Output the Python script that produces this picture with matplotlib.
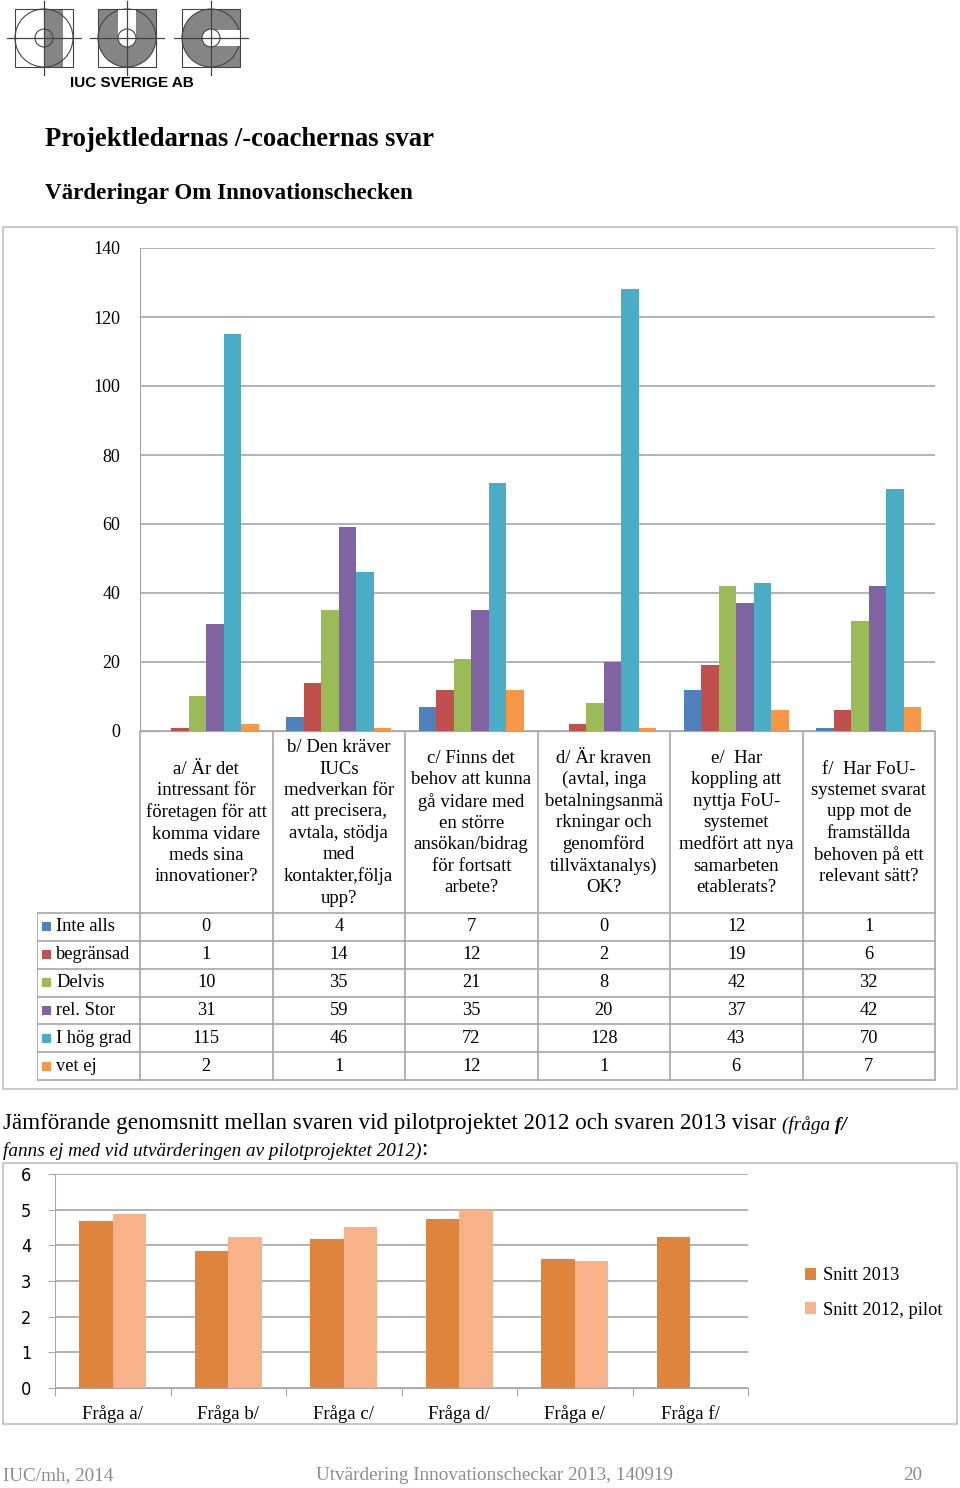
import matplotlib
matplotlib.use("Agg")
import matplotlib.pyplot as plt
from matplotlib.patches import Rectangle, Circle
import numpy as np

# ── data ────────────────────────────────────────────────────────────────
FRAGOR = [
    "a/ Är det\nintressant för\nföretagen för att\nkomma vidare\nmeds sina\ninnovationer?",
    "b/ Den kräver\nIUCs\nmedverkan för\natt precisera,\navtala, stödja\nmed\nkontakter,följa\nupp?",
    "c/ Finns det\nbehov att kunna\ngå vidare med\nen större\nansökan/bidrag\nför fortsatt\narbete?",
    "d/ Är kraven\n(avtal, inga\nbetalningsanmä\nrkningar och\ngenomförd\ntillväxtanalys)\nOK?",
    "e/  Har\nkoppling att\nnyttja FoU-\nsystemet\nmedfört att nya\nsamarbeten\netablerats?",
    "f/  Har FoU-\nsystemet svarat\nupp mot de\nframställda\nbehoven på ett\nrelevant sätt?",
]
SVAR = ["Inte alls", "begränsad", "Delvis", "rel. Stor", "I hög grad", "vet ej"]
INTE_ALLS  = [0, 4, 7, 0, 12, 1]
BEGRANSAD  = [1, 14, 12, 2, 19, 6]
DELVIS     = [10, 35, 21, 8, 42, 32]
REL_STOR   = [31, 59, 35, 20, 37, 42]
HOG_GRAD   = [115, 46, 72, 128, 43, 70]
VET_EJ     = [2, 1, 12, 1, 6, 7]
Y_TICKS_TOPP = [0, 20, 40, 60, 80, 100, 120, 140]

FRAGA_ETIKETT = ["Fråga a/", "Fråga b/", "Fråga c/", "Fråga d/", "Fråga e/", "Fråga f/"]
SNITT_2013 = [4.67, 3.83, 4.19, 4.73, 3.62, 4.22]
SNITT_2012 = [4.87, 4.23, 4.52, 5.00, 3.56, np.nan]
Y_TICKS_SNITT = [0, 1, 2, 3, 4, 5, 6]

SERIER = [INTE_ALLS, BEGRANSAD, DELVIS, REL_STOR, HOG_GRAD, VET_EJ]
FARGER = ["#4F81BD", "#C0504D", "#9BBB59", "#8064A2", "#4BACC6", "#F79646"]
F_2013, F_2012 = "#DE843C", "#F7B28A"
GRID = "#A6A6A6"
SERIF = "Liberation Serif"

W, H = 960, 1488
plt.rcParams["font.family"] = SERIF


def rect(x0, y0, x1, y1):
    return [x0 / W, 1 - y1 / H, (x1 - x0) / W, (y1 - y0) / H]


fig = plt.figure(figsize=(9.6, 14.88), dpi=100)

# overlay in pixel coords for frames, logo, titles
bg = fig.add_axes([0, 0, 1, 1])
bg.set_xlim(0, W)
bg.set_ylim(H, 0)
bg.axis("off")

# ── logo ────────────────────────────────────────────────────────────────
GRA = "#858585"
LIN = "#444444"
def ikon(cx, cy, typ):
    s = 29
    if typ == "I":
        bg.add_patch(Rectangle((cx, cy - s), 19, 2 * s, fc=GRA, ec="none"))
        bg.add_patch(Circle((cx, cy), s, fc="none", ec=LIN, lw=0.8))
        bg.add_patch(Circle((cx, cy), 9, fc="none", ec=LIN, lw=0.8))
    elif typ == "U":
        bg.add_patch(Rectangle((cx - s, cy - s), 2 * s, s, fc=GRA, ec="none"))
        bg.add_patch(Circle((cx, cy), s, fc=GRA, ec=LIN, lw=0.8))
        bg.add_patch(Rectangle((cx - 9, cy - s), 18, s, fc="white", ec="none"))
        bg.add_patch(Circle((cx, cy), 9, fc="white", ec=LIN, lw=0.8))
    else:
        bg.add_patch(Rectangle((cx, cy - s), s, 2 * s, fc=GRA, ec="none"))
        bg.add_patch(Circle((cx, cy), s, fc=GRA, ec=LIN, lw=0.8))
        bg.add_patch(Rectangle((cx, cy - 8), s + 1, 16, fc="white", ec="none"))
        bg.add_patch(Circle((cx, cy), 9, fc="white", ec=LIN, lw=0.8))
    bg.add_patch(Rectangle((cx - s, cy - s), 2 * s, 2 * s, fc="none", ec=LIN, lw=0.8))
    bg.plot([cx - s - 8, cx + s + 8], [cy, cy], color=LIN, lw=0.9)
    bg.plot([cx, cx], [cy - s - 8, cy + s + 8], color=LIN, lw=0.9)

ikon(44, 38, "I")
ikon(127, 38, "U")
ikon(211, 38, "C")
bg.text(132, 83, "IUC SVERIGE AB", family="Liberation Sans", fontweight="bold",
        fontsize=11, ha="center", va="center")

# ── titles ──────────────────────────────────────────────────────────────
bg.text(45, 139, "Projektledarnas /-coachernas svar", fontsize=19.2,
        fontweight="bold", va="center")
bg.text(45, 194, "Värderingar Om Innovationschecken", fontsize=16.6,
        fontweight="bold", va="center")

# frames
bg.add_patch(Rectangle((3, 227), 954, 862, fc="none", ec="#BFBFBF", lw=1.2))
bg.add_patch(Rectangle((3, 1163), 954, 261, fc="none", ec="#BFBFBF", lw=1.2))

# ── top chart ───────────────────────────────────────────────────────────
ax = fig.add_axes(rect(140, 248, 935, 731))
ax.set_facecolor("none")
n = len(FRAGOR)
x = np.arange(n) + 0.5
bw = 0.132
for i, (serie, farg) in enumerate(zip(SERIER, FARGER)):
    ax.bar(x + (i - 2.5) * bw, serie, bw, color=farg, zorder=3)
ax.set_xlim(0, n)
ax.set_ylim(0, 140)
ax.set_yticks(Y_TICKS_TOPP)
ax.set_xticks([])
ax.yaxis.grid(True, color=GRID, lw=1.2)
ax.set_axisbelow(True)
ax.tick_params(axis="y", length=0, pad=14, labelsize=13)
for sp in ["top", "right"]:
    ax.spines[sp].set_visible(False)
ax.spines["left"].set_color(GRID)
ax.spines["bottom"].set_color(GRID)

# ── data table under top chart ──────────────────────────────────────────
tb = fig.add_axes(rect(37, 731, 936, 1081))
tb.set_xlim(37, 936)
tb.set_ylim(1081, 731)
tb.axis("off")
col_w = (935 - 140) / n
row_top = 913
row_h = (1080 - row_top) / len(SVAR)
for k in range(n + 1):
    tb.plot([140 + k * col_w] * 2, [731, 1080], color=GRID, lw=1.2)
tb.plot([37, 37], [row_top, 1080], color=GRID, lw=1.2)
for r in range(len(SVAR) + 1):
    tb.plot([37, 935], [row_top + r * row_h] * 2, color=GRID, lw=1.2)
for k, fr in enumerate(FRAGOR):
    tb.text(140 + (k + 0.5) * col_w, (731 + row_top) / 2 + 1, fr, ha="center",
            va="center", fontsize=13.5, linespacing=1.33)
for r, (namn, serie, farg) in enumerate(zip(SVAR, SERIER, FARGER)):
    yc = row_top + (r + 0.5) * row_h
    tb.add_patch(Rectangle((42, yc - 4.5), 9, 9, fc=farg, ec="none"))
    tb.text(56, yc, namn, va="center", fontsize=13.2)
    for k, v in enumerate(serie):
        tb.text(140 + (k + 0.5) * col_w, yc, str(v), ha="center", va="center",
                fontsize=13.2)

# ── intro text for bottom chart ─────────────────────────────────────────
t1 = bg.text(3, 1123, "Jämförande genomsnitt mellan svaren vid pilotprojektet 2012 och svaren 2013 visar ",
             fontsize=16.6, va="center")
t2 = bg.annotate("(fråga ", xy=(1, 0), xycoords=t1, va="bottom", fontsize=13.8,
                 style="italic")
t3 = bg.annotate("f/", xy=(1, 0), xycoords=t2, va="bottom", fontsize=13.8,
                 style="italic", fontweight="bold")
t4 = bg.text(3, 1151, "fanns ej med vid utvärderingen av pilotprojektet 2012)",
             fontsize=13.8, style="italic", va="center")
bg.annotate(":", xy=(1, 0), xycoords=t4, va="bottom", fontsize=16.5)

# ── bottom chart ────────────────────────────────────────────────────────
ax2 = fig.add_axes(rect(55, 1174, 748, 1388))
ax2.set_facecolor("none")
xb = np.arange(len(FRAGA_ETIKETT)) + 0.5
bw2 = 0.29
ax2.bar(xb - bw2 / 2, SNITT_2013, bw2, color=F_2013, zorder=3, label="Snitt 2013")
ax2.bar(xb + bw2 / 2, SNITT_2012, bw2, color=F_2012, zorder=3, label="Snitt 2012, pilot")
ax2.set_xlim(0, len(FRAGA_ETIKETT))
ax2.set_ylim(0, 6)
ax2.set_yticks(Y_TICKS_SNITT)
ax2.set_xticks(np.arange(len(FRAGA_ETIKETT) + 1))
ax2.set_xticklabels([])
ax2.set_xticks(xb, minor=True)
ax2.set_xticklabels(FRAGA_ETIKETT, minor=True, fontsize=13.5)
ax2.tick_params(axis="x", which="minor", length=0, pad=12)
ax2.tick_params(axis="x", which="major", length=6, color=GRID, direction="out")
ax2.tick_params(axis="y", length=5, color=GRID, pad=12)
for lab in ax2.get_yticklabels():
    lab.set_family("DejaVu Sans")
    lab.set_stretch("condensed")
    lab.set_fontsize(13)
ax2.yaxis.grid(True, color=GRID, lw=1.2)
ax2.set_axisbelow(True)
for sp in ["top", "right"]:
    ax2.spines[sp].set_visible(False)
ax2.spines["left"].set_color(GRID)
ax2.spines["bottom"].set_color(GRID)
handles, labels = ax2.get_legend_handles_labels()
fig.legend(handles=handles, labels=labels,
           loc="center left", bbox_to_anchor=(788 / W, 1 - 1293 / H),
           frameon=False, prop={"family": SERIF, "size": 13.2},
           handlelength=0.6, handleheight=0.6,
           handletextpad=0.4, labelspacing=0.95)

# ── footer ──────────────────────────────────────────────────────────────
FOT = "#8C8C8C"
bg.text(3, 1476, "IUC/mh, 2014", color=FOT, fontsize=13.8, va="center")
bg.text(494, 1476, "Utvärdering Innovationscheckar 2013, 140919", color=FOT,
        fontsize=13.8, va="center", ha="center")
bg.text(922, 1476, "20", color=FOT, fontsize=13.8, va="center", ha="right")

fig.savefig("out.png", dpi=100)
